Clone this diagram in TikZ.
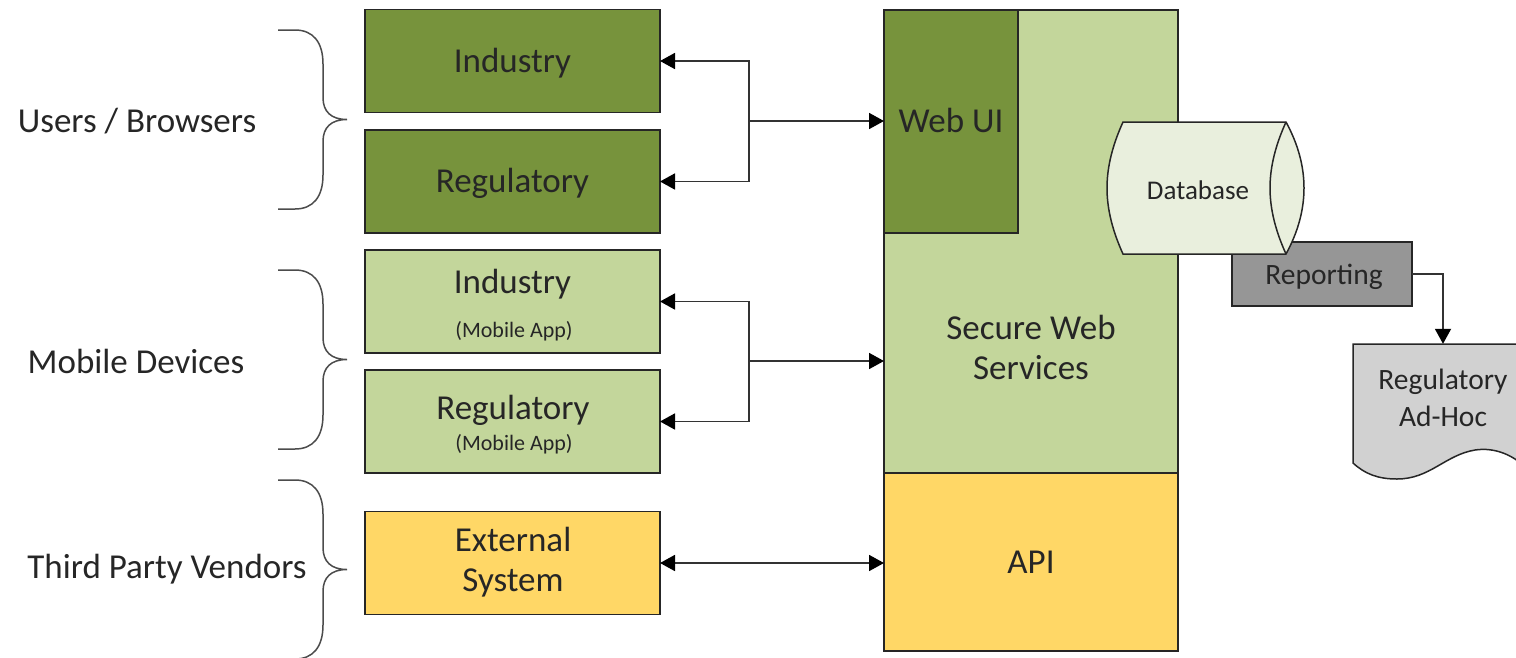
\documentclass[tikz,border=0pt]{standalone}
\usepackage{fontspec}
\setmainfont{Carlito}
\usepackage{xcolor}
\usetikzlibrary{arrows.meta}
\definecolor{darkgreen}{HTML}{77933C}
\definecolor{lightgreen}{HTML}{C3D69B}
\definecolor{paleGreen}{HTML}{E9EFDD}
\definecolor{vendorYellow}{HTML}{FFD766}
\definecolor{inkGray}{HTML}{262626}
\newcommand{\bigfont}{\fontsize{35}{40}\selectfont}
\newcommand{\midfont}{\fontsize{29.5}{37}\selectfont}
\newcommand{\lowfont}{\fontsize{27}{32}\selectfont}
\newcommand{\tinyfont}{\fontsize{22}{24}\selectfont}
\newcommand{\groupbrace}[2] {
    \draw[brace] (278,{#1}) -- (295,{#1}) .. controls (313,{#1}) and (323,{#1+12}) .. (323,{#1+34})
        -- (323,{(#1+#2)/2-22}) .. controls (323,{(#1+#2)/2-8}) and (331,{(#1+#2)/2}) .. (347,{(#1+#2)/2})
        .. controls (331,{(#1+#2)/2}) and (323,{(#1+#2)/2+8}) .. (323,{(#1+#2)/2+22})
        -- (323,{#2-34}) .. controls (323,{#2-12}) and (313,{#2}) .. (295,{#2}) -- (278,{#2});
}
\tikzset{
    x=1pt,
    y=-1pt,
    box/.style={
        draw=inkGray,
        line width=1.5pt,
        inner sep=0pt,
        outer sep=0pt,
        text=inkGray,
        align=center,
        text height=24pt,
        text depth=2pt,
        font=\bigfont
    },
    brace/.style={draw=black!70,line width=1.5pt},
    link/.style={draw=black!80,line width=1.8pt,>={Triangle[length=15pt,width=16pt,color=black]}},
    label/.style={text=inkGray,font=\bigfont,inner sep=0pt},
    note/.style={text=inkGray,font=\tinyfont,inner sep=0pt}
}
\begin{document}
\begin{tikzpicture}
    \useasboundingbox (0,0) rectangle (1516,657);
    \clip (0,0) rectangle (1516,657);
    % groups on the left
    \node[label] (users) at (137,121) {Users / Browsers};
    \node[label] (mobile) at (136,361) {Mobile Devices};
    \node[label] (vendors) at (167,569) {Third Party Vendors};
    \groupbrace{30}{209}
    \groupbrace{270}{449}
    \groupbrace{480}{659}
    % clients
    \node[box,fill=darkgreen,minimum width=295pt,minimum height=103pt] (ind) at (512.5,61) {Industry};
    \node[box,fill=darkgreen,minimum width=295pt,minimum height=103pt] (reg) at (512.5,181.5) {Regulatory};
    \node[box,fill=lightgreen,minimum width=295pt,minimum height=103pt] (indm) at (512.5,301.5) {};
    \node[box,fill=lightgreen,minimum width=295pt,minimum height=103pt] (regm) at (512.5,421.5) {};
    \node[label,text height=24pt,text depth=2pt] (indmtext) at (512.5,282) {Industry};
    \node[note] (indmnote) at (514,331) {(Mobile App)};
    \node[label,text height=24pt,text depth=2pt] (regmtext) at (513,408) {Regulatory};
    \node[note] (regmnote) at (514,444) {(Mobile App)};
    \node[box,fill=vendorYellow,minimum width=295pt,minimum height=103pt] (ext) at (512.5,563) {};
    \node[label,align=center] (exttext) at (513,562) {External\\System};
    % server side
    \node[box,fill=lightgreen,minimum width=294pt,minimum height=463pt] (sws) at (1031,241.5) {};
    \node[label,align=center] (swstext) at (1031,347) {Secure Web\\Services};
    \node[box,fill=darkgreen,minimum width=134pt,minimum height=223pt] (webui) at (951,121.5) {Web UI};
    \node[box,fill=vendorYellow,minimum width=294pt,minimum height=178pt] (api) at (1031,562) {API};
    \node[box,fill=black!41,minimum width=180pt,minimum height=64pt] (rep) at (1322,274) {};
    \node[text=inkGray,font=\midfont,inner sep=0pt] (reptext) at (1324,277) {Reporting};
    % database drum
    \filldraw[draw=inkGray,line width=1.5pt,fill=paleGreen] (1123,122) -- (1286,122)
        .. controls (1298,144) and (1304,166) .. (1304,188)
        .. controls (1304,210) and (1298,232) .. (1286,254) -- (1123,254)
        .. controls (1113,232) and (1107,210) .. (1107,188)
        .. controls (1107,166) and (1113,144) .. (1123,122) -- cycle;
    \draw[draw=inkGray,line width=1.5pt] (1286,122) .. controls (1276,144) and (1270,166) .. (1270,188)
        .. controls (1270,210) and (1276,232) .. (1286,254);
    \node[text=inkGray,font=\lowfont,inner sep=0pt] (db) at (1198,190) {Database};
    % report sheet
    \filldraw[draw=inkGray,line width=1.5pt,fill=black!18] (1353,344) -- (1530,344) -- (1530,472)
        .. controls (1515,455) and (1495,447) .. (1475,450)
        .. controls (1445,455) and (1430,479) .. (1397,479)
        .. controls (1378,479) and (1365,474) .. (1353,463) -- cycle;
    \node[text=inkGray,font=\midfont,align=center,inner sep=0pt,minimum width=180pt,minimum height=108pt] (adhoc) at (1443,398) {Regulatory\\Ad-Hoc};
    % connectors
    \coordinate (jctusers) at (749,121);
    \coordinate (jctmobile) at (749,361);
    \draw[link,->] (jctusers) |- (ind.east);
    \draw[link,->] (jctusers) |- (reg.east);
    \draw[link,->] (jctusers) -- (jctusers -| webui.west);
    \draw[link,->] (jctmobile) |- (indm.east);
    \draw[link,->] (jctmobile) |- (regm.east);
    \draw[link,->] (jctmobile) -- (jctmobile -| sws.west);
    \draw[link,<->] (ext.east) -- (ext.east -| api.west);
    \draw[link,->] (rep.east) -| (adhoc.north);
\end{tikzpicture}
\end{document}
